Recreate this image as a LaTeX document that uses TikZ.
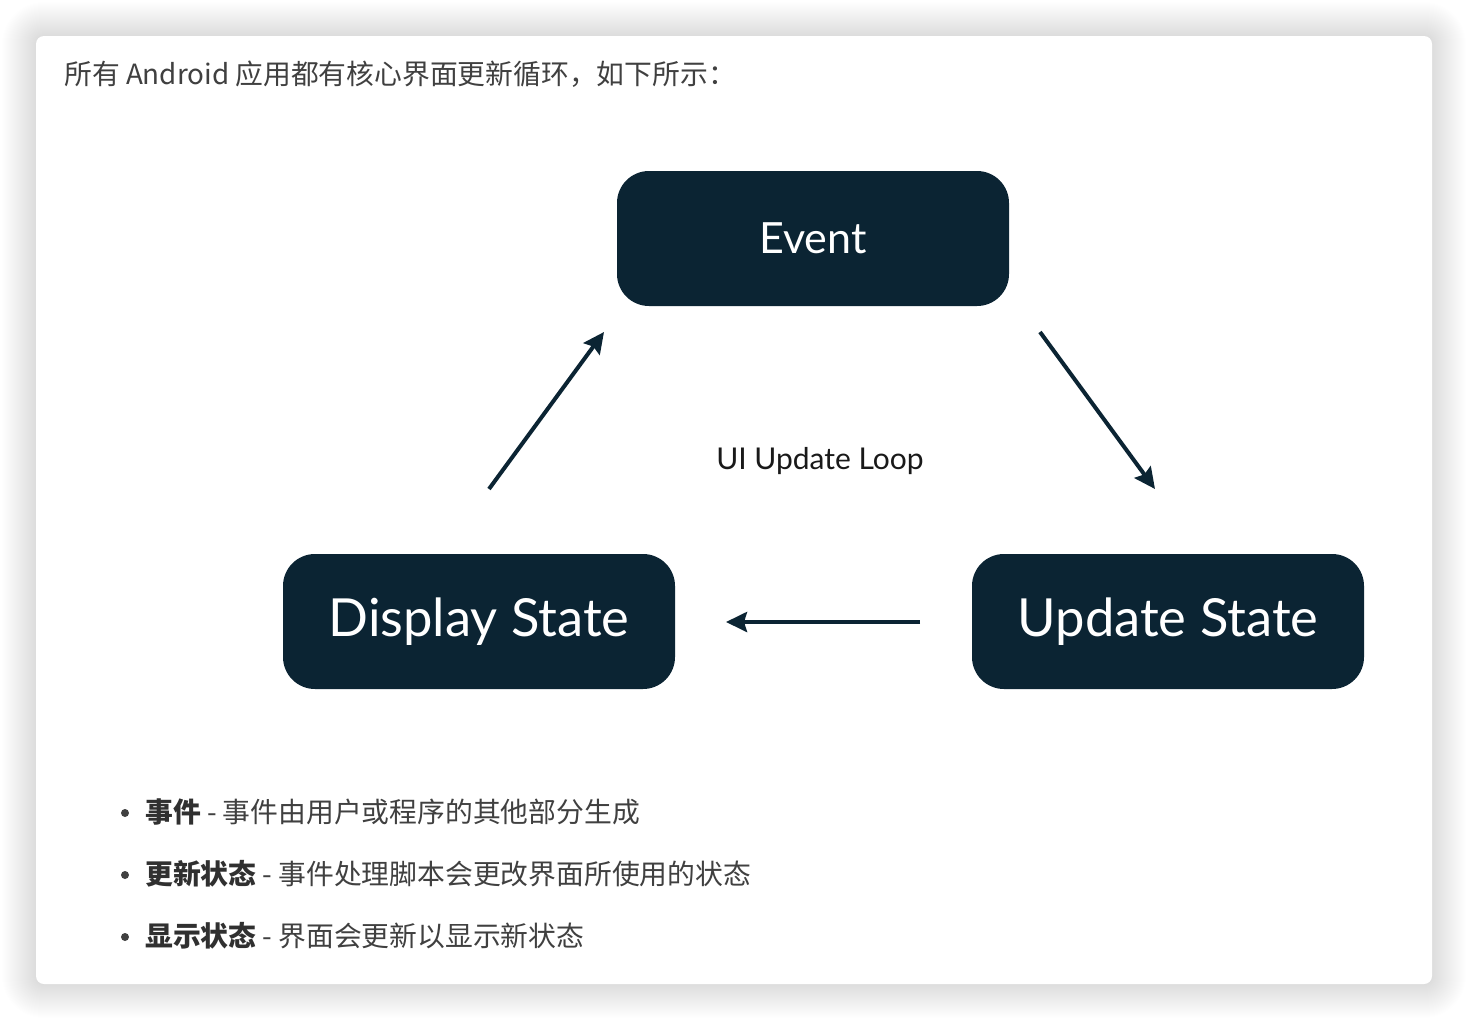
\documentclass[tikz,border=0pt]{standalone}
\usepackage{fontspec}
\setmainfont{Noto Sans CJK SC}
\newfontfamily\gsans{Lato}
\usetikzlibrary{arrows.meta}
\definecolor{navy}{HTML}{0B2433}
\definecolor{txt}{HTML}{404040}
\definecolor{txtb}{HTML}{303030}
\begin{document}
\begin{tikzpicture}[x=1pt,y=-1pt,
  boxst/.style={fill=navy, rounded corners=32pt, minimum width=392pt, minimum height=135pt,
    text=white, inner sep=0pt, font=\gsans\fontsize{52.5}{60}\selectfont},
  conn/.style={draw=navy, line width=4pt, -{Stealth[length=21pt,width=20pt,inset=3pt]}},
  bodytext/.style={text=txt, inner sep=0pt, anchor=base west, font=\fontsize{27.8}{32}\selectfont},
  dot/.style={circle, fill=txt, inner sep=0pt, minimum size=8pt}]
\useasboundingbox (0,0) rectangle (1468,1020);
\fill[white] (0,0) rectangle (1468,1020);
\foreach \i in {1,...,34} {
  \fill[black, opacity=0.0055, rounded corners={8pt+\i pt}]
    (36-\i,36-\i) rectangle (1432+\i,984+\i);
}
\fill[white, rounded corners=8pt] (36,36) rectangle (1432,984);

\node[bodytext] (intro) at (64,84) {所有 Android 应用都有核心界面更新循环，如下所示：};

\node[boxst] (event) at (813,238.5) {\fontsize{43}{52}\selectfont Event};
\node[boxst] (disp) at (479,621.5) {Display State};
\node[boxst] (upd) at (1168,621.5) {Update State};

\node[text=black!90, inner sep=0pt, font=\gsans\fontsize{30}{36}\selectfont] (loop) at (820,461) {UI Update Loop};

\coordinate (a1s) at (489,489);
\coordinate (a1e) at (604,332);
\coordinate (a2s) at (1040,332);
\coordinate (a2e) at (1155,489);
\coordinate (a3s) at (920,622);
\coordinate (a3e) at (726,622);
\draw[conn] (a1s) -- (a1e);
\draw[conn] (a2s) -- (a2e);
\draw[conn] (a3s) -- (a3e);

\node[dot] (b1) at (125,813) {};
\node[dot] (b2) at (125,875) {};
\node[dot] (b3) at (125,937) {};
\node[bodytext] (t1) at (145,822) {\textbf{\color{txtb}事件} - 事件由用户或程序的其他部分生成};
\node[bodytext] (t2) at (145,884) {\textbf{\color{txtb}更新状态} - 事件处理脚本会更改界面所使用的状态};
\node[bodytext] (t3) at (145,946) {\textbf{\color{txtb}显示状态} - 界面会更新以显示新状态};
\end{tikzpicture}
\end{document}
